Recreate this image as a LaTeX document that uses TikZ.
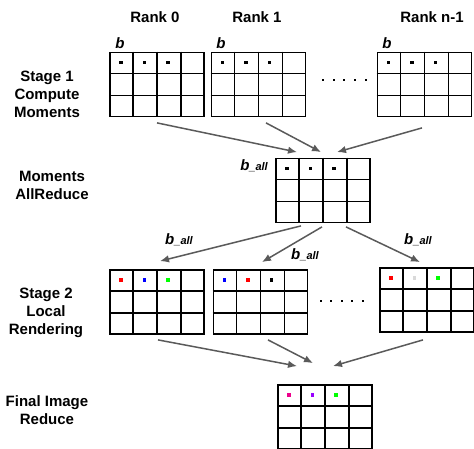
\documentclass[tikz,border=0pt]{standalone}
\usepackage{fontspec}
\setmainfont{Liberation Sans}
\usetikzlibrary{calc, positioning, arrows.meta}

\definecolor{flowgray}{HTML}{5A5A5A}
\definecolor{dotpurple}{HTML}{9900FF}
\definecolor{dotgray}{HTML}{D9D9D9}

% small coloured squares in the first row of a cell grid
\newcommand{\celldots}[4]{%
  \foreach \c [count=\k] in {#2,#3,#4}
    \fill[\c] ($(#1.north west)+(23.5*\k-11.75,10.7)$) +(-1.7,-1.7) rectangle +(1.7,1.7);
}
\newcommand{\ball}{b{\fontsize{11}{13}\selectfont\_all}}

\begin{document}
\begin{tikzpicture}[x=1pt, y=-1pt, >={Latex[length=9pt,width=7.5pt]},
    gridbox/.style={draw, line width=1.8pt, minimum width=94pt, minimum height=64pt, inner sep=0pt},
    flow/.style={->, flowgray, line width=1.5pt},
    stage/.style={font=\fontsize{15}{18}\selectfont\bfseries, align=center},
    lbl/.style={font=\fontsize{15}{18}\selectfont\bfseries\itshape, inner sep=0pt}]
    \useasboundingbox (0,0) rectangle (474,449);

    % 1. Ranks and stage names
    \node[stage] (rank0) at (155,17) {Rank 0};
    \node[stage] (rank1) at (257,17) {Rank 1};
    \node[stage] (rankn) at (432,17) {Rank n-1};
    \node[stage] (st1) at (47,94) {Stage 1\\Compute\\Moments};
    \node[stage] (red1) at (52,185) {Moments\\AllReduce};
    \node[stage] (st2) at (46,313) {Stage 2\\Local\\Rendering};
    \node[stage] (red2) at (47,410) {Final Image\\Reduce};

    % 2. Cell grids
    \node[gridbox] (r0) at (157,84.5) {};
    \node[gridbox] (r1) at (258.5,84.5) {};
    \node[gridbox] (r2) at (424.5,84.5) {};
    \node[gridbox] (m) at (323,190.5) {};
    \node[gridbox] (s0) at (157,302) {};
    \node[gridbox] (s1) at (260.5,302) {};
    \node[gridbox] (s2) at (427,300) {};
    \node[gridbox] (f) at (325,417) {};
    \foreach \g in {r0,r1,r2,m,s0,s1,s2,f} {
      \foreach \i in {1,2,3}
        \draw[line width=1.8pt] ($(\g.north west)!\i/4!(\g.north east)$) -- ($(\g.south west)!\i/4!(\g.south east)$);
      \foreach \j in {1,2}
        \draw[line width=1.8pt] ($(\g.north west)!\j/3!(\g.south west)$) -- ($(\g.north east)!\j/3!(\g.south east)$);
    }

    % 3. Values in the first row
    \celldots{r0}{black}{black}{black}
    \celldots{r1}{black}{black}{black}
    \celldots{r2}{black}{black}{black}
    \celldots{m}{black}{black}{black}
    \celldots{s0}{red}{blue}{green}
    \celldots{s1}{blue}{red}{black}
    \celldots{s2}{red}{dotgray}{green}
    \celldots{f}{magenta}{dotpurple}{green}

    % dots between the ranks
    \foreach \k in {0,...,4} {
      \fill ($(r1.east)+(16.5+10.75*\k,-4.5)$) +(-1,-1) rectangle +(1,1);
      \fill ($(s1.east)+(12.5+10.5*\k,-1)$) +(-1,-1) rectangle +(1,1);
    }

    % 4. Buffer names
    \node[lbl] (b0) at (120,43) {b};
    \node[lbl] (b1) at (221,43) {b};
    \node[lbl] (b2) at (387,43) {b};
    \node[lbl, anchor=east] (bm) at (268,166) {\ball};
    \node[lbl] (ba) at (179,240) {\ball};
    \node[lbl] (bb) at (305,255) {\ball};
    \node[lbl] (bc) at (418,240) {\ball};

    % 5. Reduce, broadcast, reduce
    \draw[flow] ($(r0.south)+(0,5.5)$) -- ($(m.north)+(-26,-5.5)$);
    \draw[flow] ($(r1.south)+(7.5,5.5)$) -- ($(m.north)+(-2,-5.5)$);
    \draw[flow] ($(r2.south)+(-2.5,10.5)$) -- ($(m.north)+(14,-5.5)$);
    \draw[flow] ($(m.south)+(-22,2.5)$) -- ($(s0.north)+(3,-8)$);
    \draw[flow] ($(m.south)+(-1,3.5)$) -- ($(s1.north)+(1.5,-7)$);
    \draw[flow] ($(m.south)+(23,3.5)$) -- ($(s2.north)+(-7,-5)$);
    \draw[flow] ($(s0.south)+(1,5)$) -- ($(f.north)+(-28,-18)$);
    \draw[flow] ($(s1.south)+(7.5,5)$) -- ($(f.north)+(-12,-21)$);
    \draw[flow] ($(s2.south)+(-4,7)$) -- ($(f.north)+(8,-18)$);
\end{tikzpicture}
\end{document}
